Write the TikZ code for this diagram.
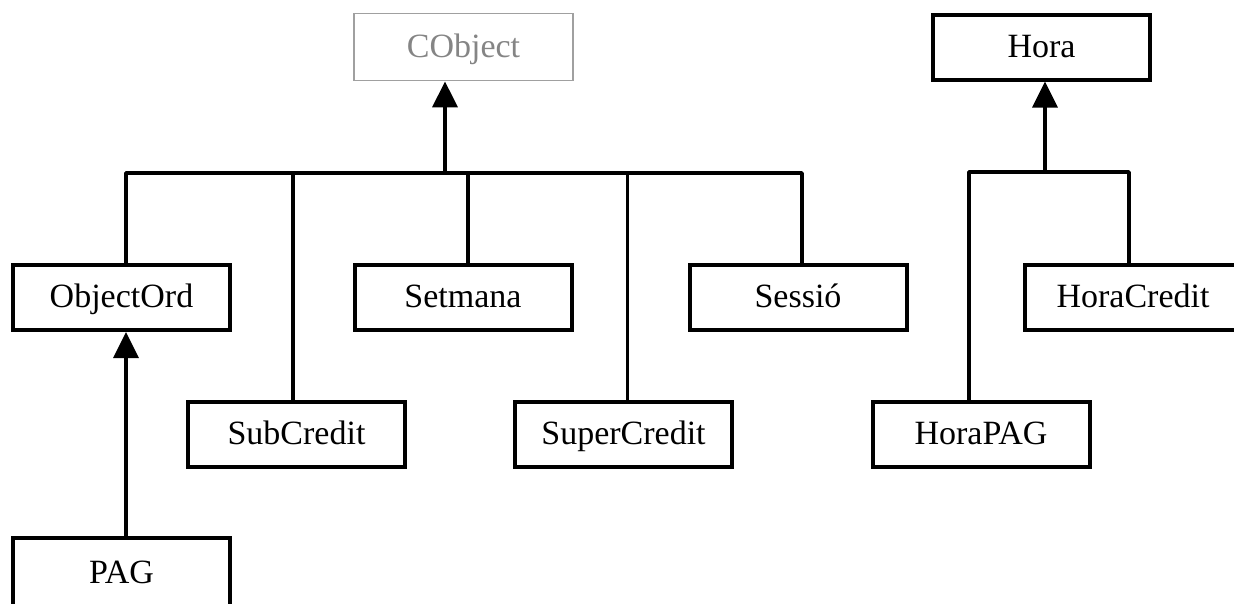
\documentclass[tikz,border=0pt]{standalone}
\usepackage{fontspec}
\setmainfont{Liberation Serif}
\usetikzlibrary{arrows.meta,calc}
\definecolor{grayline}{HTML}{A0A0A0}
\definecolor{graytext}{HTML}{858585}
\tikzset{
  cls/.style={draw=black, line width=4pt, rectangle, minimum width=217pt, minimum height=65pt, inner sep=0pt, text height=26pt, text depth=5.5pt, fill=white, font=\fontsize{34}{40}\selectfont},
  ghost/.style={cls, draw=grayline, line width=1.8pt, minimum width=219pt, minimum height=67pt, text=graytext},
  link/.style={line width=3.5pt, line join=round},
  inherit/.style={link, -{Triangle[width=25pt,length=26pt]}}
}
\begin{document}
\begin{tikzpicture}[x=1pt,y=-1pt]
\useasboundingbox (0,0) rectangle (1234,603);
\clip (0,0) rectangle (1234,603);
% classes
\node[ghost] (CObject) at (463.5,47) {CObject};
\node[cls] (Hora) at (1041.5,47) {Hora};
\node[cls] (ObjectOrd) at (121.5,297.5) {ObjectOrd};
\node[cls] (Setmana) at (463,297.5) {Setmana};
\node[cls] (Sessio) at (798,297.5) {Sessió};
\node[cls] (HoraCredit) at (1133,297.5) {HoraCredit};
\node[cls] (SubCredit) at (296.5,434) {SubCredit};
\node[cls] (SuperCredit) at (623.5,434.5) {SuperCredit};
\node[cls] (HoraPAG) at (981,434.5) {HoraPAG};
\node[cls, minimum height=70pt] (PAG) at (121.5,573) {PAG};
% bus junctions
\coordinate (bus) at (445,173);
\coordinate (bus2) at (1045,172);
% CObject hierarchy
\draw[inherit] (bus) -- (bus |- CObject.south);
\draw[link] ([xshift=4.5pt]ObjectOrd.north) |- (bus) -| ([xshift=4pt]Sessio.north);
\draw[link] ([xshift=5pt]Setmana.north) -- ([xshift=5pt]Setmana.north |- bus);
\draw[link] ([xshift=-3.5pt]SubCredit.north) -- ([xshift=-3.5pt]SubCredit.north |- bus);
\draw[link] ([xshift=4pt]SuperCredit.north) -- ([xshift=4pt]SuperCredit.north |- bus);
\draw[inherit] ([xshift=4.5pt]PAG.north) -- ([xshift=4.5pt]ObjectOrd.south);
% Hora hierarchy
\draw[inherit] (bus2) -- (bus2 |- Hora.south);
\draw[link] ([xshift=-12pt]HoraPAG.north) |- (bus2) -| ([xshift=-4pt]HoraCredit.north);
\end{tikzpicture}
\end{document}
